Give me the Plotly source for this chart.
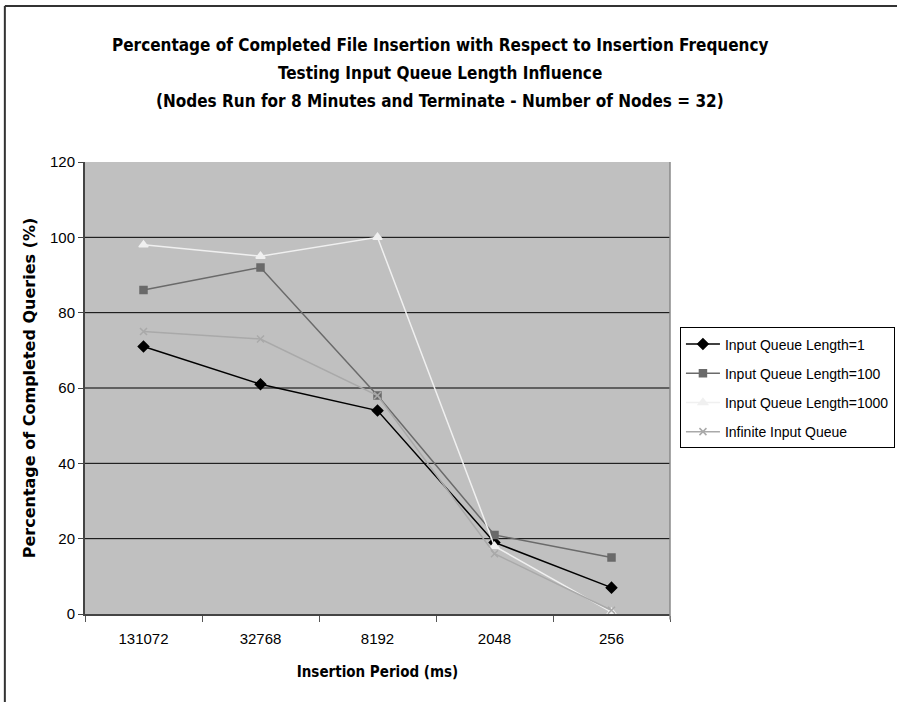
import plotly.graph_objects as go

categories = ["131072", "32768", "8192", "2048", "256"]
len1 = [71, 61, 54, 19, 7]
len100 = [86, 92, 58, 21, 15]
len1000 = [98, 95, 100, 18, 0.5]
infinite = [75, 73, 58, 16, 1]
grid_vals = [20, 40, 60, 80, 100]
y_ticks = [0, 20, 40, 60, 80, 100, 120]
title_lines = [
    "Percentage of Completed File Insertion with Respect to Insertion Frequency",
    "Testing Input Queue Length Influence",
    "(Nodes Run for 8 Minutes and Terminate - Number of Nodes = 32)",
]

series = [
    ("Input Queue Length=1", len1, "#000000", "diamond", 8),
    ("Input Queue Length=100", len100, "#6a6a6a", "square", 7),
    ("Input Queue Length=1000", len1000, "#f0f0f0", "triangle-up", 8),
    ("Infinite Input Queue", infinite, "#a9a9a9", "x-thin", 7),
]

fig = go.Figure()
for i, (name, vals, color, sym, size) in enumerate(series):
    fig.add_trace(go.Scatter(
        x=categories, y=vals, name=name, mode="lines+markers",
        legendgroup=f"g{i}",
        line=dict(color=color, width=1.5),
        marker=dict(symbol=sym, size=size, color=color,
                    line=dict(color=color, width=1.5)),
    ))

for g in grid_vals:
    fig.add_shape(type="line", xref="paper", yref="y", x0=0, x1=1, y0=g, y1=g,
                  line=dict(color="#000000", width=1), layer="below")

# outer frame (top and left edges)
fig.add_shape(type="line", xref="paper", yref="paper", x0=-0.137, x1=1.45, y0=1.345, y1=1.345,
              line=dict(color="#333333", width=2))
fig.add_shape(type="line", xref="paper", yref="paper", x0=-0.137, x1=-0.137, y0=1.345, y1=-0.25,
              line=dict(color="#333333", width=2))
# right plot edge
fig.add_shape(type="line", xref="paper", yref="paper", x0=1, x1=1, y0=-0.012, y1=1,
              line=dict(color="#8a8a8a", width=1.5))

title_font = "DejaVu Sans Condensed, Liberation Sans, Arial, sans-serif"
for i, line in enumerate(title_lines):
    fig.add_annotation(
        text=f"<b>{line}</b>", xref="paper", yref="paper",
        x=0.607, y=1.259 - i * 0.062, xanchor="center", yanchor="middle",
        showarrow=False, font=dict(family=title_font, size=17, color="black"),
    )

base_font = "Liberation Sans, Arial, sans-serif"

fig.update_layout(
    width=897, height=702,
    margin=dict(l=85, r=227, t=162, b=88, autoexpand=False),
    paper_bgcolor="white", plot_bgcolor="#c0c0c0",
    font=dict(family=base_font, size=14, color="black"),
    showlegend=True,
    xaxis=dict(
        type="category", tickson="boundaries", ticks="outside", ticklen=6,
        tickcolor="#555555", showgrid=False, showline=True, linecolor="#444444",
        linewidth=2, tickfont=dict(size=15), range=[-0.5, 4.5],
        ticklabelstandoff=10,
        title=dict(text="<b>Insertion Period (ms)</b>",
                   font=dict(family=title_font, size=15), standoff=20),
    ),
    yaxis=dict(
        range=[0, 120], tickvals=y_ticks, ticks="outside", ticklen=5,
        tickcolor="#444444", showgrid=False, showline=True, linecolor="#444444",
        linewidth=2, zeroline=False, tickfont=dict(size=15),
        title=dict(text="<b>Percentage of Completed Queries (%)</b>",
                   font=dict(family="DejaVu Sans, sans-serif", size=16), standoff=10),
    ),
    legend=dict(
        x=1.017, y=0.634, xanchor="left", yanchor="top",
        bordercolor="black", borderwidth=1, bgcolor="white",
        font=dict(size=14), traceorder="grouped", tracegroupgap=8, itemwidth=34,
    ),
)

fig.write_html("out.html")
